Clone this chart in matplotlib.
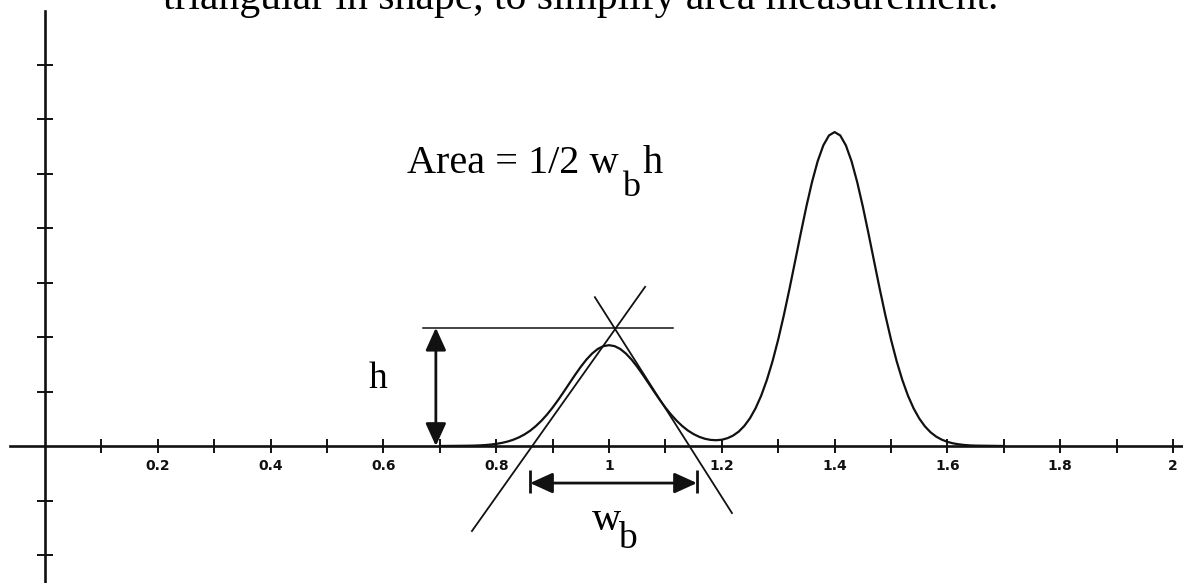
import matplotlib
matplotlib.use("Agg")
import matplotlib.pyplot as plt

# chromatogram trace (x = time, y = detector signal)
time = [0.70,
        0.75, 0.76, 0.77, 0.78, 0.79, 0.80, 0.81, 0.82, 0.83, 0.84,
        0.85, 0.86, 0.87, 0.88, 0.89, 0.90, 0.91, 0.92, 0.93, 0.94,
        0.95, 0.96, 0.97, 0.98, 0.99, 1.00, 1.01, 1.02, 1.03, 1.04,
        1.05, 1.06, 1.07, 1.08, 1.09, 1.10, 1.11, 1.12, 1.13, 1.14,
        1.15, 1.16, 1.17, 1.18, 1.19, 1.20, 1.21, 1.22, 1.23, 1.24,
        1.25, 1.26, 1.27, 1.28, 1.29, 1.30, 1.31, 1.32, 1.33, 1.34,
        1.35, 1.36, 1.37, 1.38, 1.39, 1.40, 1.41, 1.42, 1.43, 1.44,
        1.45, 1.46, 1.47, 1.48, 1.49, 1.50, 1.51, 1.52, 1.53, 1.54,
        1.55, 1.56, 1.57, 1.58, 1.59, 1.60, 1.61, 1.62, 1.63, 1.64,
        1.65, 1.70]
signal = [0.000,
          0.005, 0.007, 0.011, 0.017, 0.026, 0.039, 0.057, 0.081, 0.114, 0.157,
          0.211, 0.279, 0.363, 0.461, 0.576, 0.705, 0.847, 0.998, 1.153, 1.307,
          1.454, 1.586, 1.696, 1.780, 1.832, 1.850, 1.832, 1.780, 1.696, 1.586,
          1.454, 1.307, 1.153, 0.998, 0.847, 0.705, 0.577, 0.463, 0.365, 0.283,
          0.218, 0.168, 0.133, 0.112, 0.106, 0.115, 0.143, 0.191, 0.264, 0.369,
          0.510, 0.695, 0.928, 1.215, 1.557, 1.954, 2.399, 2.883, 3.391, 3.903,
          4.396, 4.845, 5.226, 5.516, 5.698, 5.760, 5.698, 5.516, 5.226, 4.845,
          4.396, 3.903, 3.391, 2.883, 2.399, 1.954, 1.557, 1.214, 0.926, 0.692,
          0.506, 0.362, 0.253, 0.173, 0.116, 0.076, 0.049, 0.031, 0.019, 0.011,
          0.007, 0.000]

x_major = [0.2, 0.4, 0.6, 0.8, 1.0, 1.2, 1.4, 1.6, 1.8, 2.0]
x_labels = ["0.2", "0.4", "0.6", "0.8", "1", "1.2", "1.4", "1.6", "1.8", "2"]
x_minor = [0.1, 0.3, 0.5, 0.7, 0.9, 1.1, 1.3, 1.5, 1.7, 1.9]
y_ticks = [-2, -1, 1, 2, 3, 4, 5, 6, 7]

# construction lines on the first peak
tan_left_x = [0.757, 1.064]
tan_left_y = [-1.56, 2.92]
tan_right_x = [0.975, 1.218]
tan_right_y = [2.73, -1.23]
apex_line_x = [0.671, 1.113]
apex_h = 2.17
h_arrow_x = 0.693
wb_x = [0.860, 1.156]
wb_y = -0.68

top_text = "triangular in shape, to simplify area measurement."

px_x = 564.0   # pixels per x unit
px_y = 54.5    # pixels per y unit

fig = plt.figure(figsize=(11.83, 5.83), dpi=100)
ax = fig.add_axes([0, 0, 1, 1])
ax.set_xlim(-45 / px_x, (1183 - 45) / px_x)
ax.set_ylim(-(583 - 446) / px_y, 446 / px_y)

for s in ["top", "right"]:
    ax.spines[s].set_visible(False)
ax.spines["left"].set_position(("data", 0))
ax.spines["bottom"].set_position(("data", 0))
ax.spines["left"].set_bounds(-2.7, 7.98)
ax.spines["bottom"].set_bounds(-0.062, 2.1)
for s in ["left", "bottom"]:
    ax.spines[s].set_linewidth(1.9)
    ax.spines[s].set_color("#111111")

ax.set_xticks(x_major, x_labels)
ax.set_xticks(x_minor, minor=True)
ax.tick_params(axis="x", which="both", direction="inout", length=10, width=1.4,
               pad=4, labelsize=10, colors="#111111")
for lbl in ax.get_xticklabels():
    lbl.set_fontweight("bold")
ax.set_yticks(y_ticks, [])
ax.tick_params(axis="y", direction="inout", length=11, width=1.4, colors="#111111")

ax.plot(time, signal, color="#111111", lw=1.6, solid_capstyle="round")

ax.plot(tan_left_x, tan_left_y, color="#111111", lw=1.3)
ax.plot(tan_right_x, tan_right_y, color="#111111", lw=1.3)
ax.plot(apex_line_x, [apex_h, apex_h], color="#111111", lw=1.1)

arrow = dict(arrowstyle="<|-|>,head_length=0.55,head_width=0.25", mutation_scale=25,
             lw=2, color="#111111", shrinkA=0, shrinkB=0)
ax.annotate("", xy=(h_arrow_x, apex_h), xytext=(h_arrow_x, 0), arrowprops=arrow)
ax.annotate("", xy=(wb_x[0], wb_y), xytext=(wb_x[1], wb_y), arrowprops=arrow)
ax.vlines(wb_x, -0.86, -0.44, color="#111111", lw=2)

serif = "Liberation Serif"
ax.text(0.573, 1.064, "h", fontsize=27, family=serif, va="baseline")
ax.text(0.970, -1.541, "w", fontsize=29, family=serif, va="baseline")
ax.text(1.016, -1.872, "b", fontsize=27, family=serif, va="baseline")
ax.text(0.642, 5.009, "Area = 1/2 w", fontsize=29, family=serif, va="baseline")
ax.text(1.023, 4.587, "b", fontsize=26, family=serif, va="baseline")
ax.text(1.060, 5.009, "h", fontsize=29, family=serif, va="baseline")

fig.text(163 / 1183, 1 - 9.5 / 583, top_text, fontsize=30, family=serif,
         va="baseline", ha="left")

fig.savefig("out.png", dpi=100)
